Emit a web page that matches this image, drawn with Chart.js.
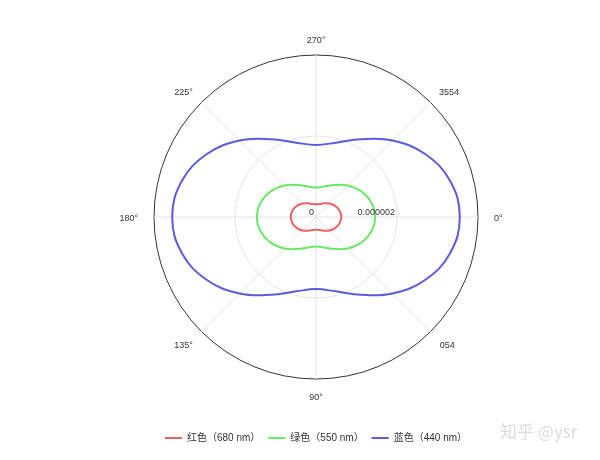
<!DOCTYPE html>
<html>
<head>
<meta charset="utf-8">
<script src="https://cdn.jsdelivr.net/npm/chart.js@4"></script>
<style>
  html, body { margin: 0; padding: 0; background: #fff; }
  canvas { display: block; }
</style>
</head>
<body>
<canvas id="polarChart" width="600" height="460"></canvas>
<script>
// angle categories, 15 degree steps, 0 at right going clockwise
const angles = [0, 15, 30, 45, 60, 75, 90, 105, 120, 135, 150, 165,
                180, 195, 210, 225, 240, 255, 270, 285, 300, 315, 330, 345];

// intensities
const red =   [0.624e-6, 0.603e-6, 0.546e-6, 0.468e-6, 0.390e-6, 0.333e-6, 0.312e-6, 0.333e-6, 0.390e-6, 0.468e-6, 0.546e-6, 0.603e-6,
               0.624e-6, 0.603e-6, 0.546e-6, 0.468e-6, 0.390e-6, 0.333e-6, 0.312e-6, 0.333e-6, 0.390e-6, 0.468e-6, 0.546e-6, 0.603e-6];
const green = [1.46e-6, 1.41e-6, 1.28e-6, 1.10e-6, 0.91e-6, 0.78e-6, 0.73e-6, 0.78e-6, 0.91e-6, 1.10e-6, 1.28e-6, 1.41e-6,
               1.46e-6, 1.41e-6, 1.28e-6, 1.10e-6, 0.91e-6, 0.78e-6, 0.73e-6, 0.78e-6, 0.91e-6, 1.10e-6, 1.28e-6, 1.41e-6];
const blue =  [3.55e-6, 3.43e-6, 3.11e-6, 2.67e-6, 2.22e-6, 1.90e-6, 1.78e-6, 1.90e-6, 2.22e-6, 2.67e-6, 3.11e-6, 3.43e-6,
               3.55e-6, 3.43e-6, 3.11e-6, 2.67e-6, 2.22e-6, 1.90e-6, 1.78e-6, 1.90e-6, 2.22e-6, 2.67e-6, 3.11e-6, 3.43e-6];

const seriesNames = ['红色（680 nm）', '绿色（550 nm）', '蓝色（440 nm）'];
const seriesColors = ['#e86464', '#6ae86a', '#5c5cdc'];

// axis labels
const labelAngles = [0, 45, 90, 135, 180, 225, 270, 315];
const labelTexts = ['0°', '054', '90°', '135°', '180°', '225°', '270°', '3554'];
const radialTicks = [0, 2e-6];
const radialTickLabels = ['0', '0.000002'];

const labelFont = '9px "Liberation Sans", Arial, sans-serif';

// draws angle labels and radius labels the ECharts way
const axisText = {
  id: 'axisText',
  afterDraw(chart) {
    const ctx = chart.ctx;
    const s = chart.scales.r;
    const r = s.drawingArea;
    ctx.save();
    ctx.font = labelFont;
    ctx.fillStyle = '#333';
    ctx.textAlign = 'center';
    ctx.textBaseline = 'middle';
    labelAngles.forEach((a, i) => {
      const idx = angles.indexOf(a);
      const ang = s.getIndexAngle(idx) - Math.PI / 2;
      const c = Math.cos(ang), sn = Math.sin(ang);
      const w = ctx.measureText(labelTexts[i]).width;
      const x = s.xCenter + c * (r + 16) + c * w / 2;
      const y = s.yCenter + sn * (r + 12) + sn * 4.5 + 2;
      ctx.fillText(labelTexts[i], x, y);
    });
    ctx.textAlign = 'right';
    ctx.textBaseline = 'bottom';
    radialTicks.forEach((v, i) => {
      const d = s.getDistanceFromCenterForValue(v);
      ctx.fillText(radialTickLabels[i], s.xCenter + d - 2, s.yCenter);
    });
    // watermark
    ctx.font = '17px "Noto Sans CJK SC", sans-serif';
    ctx.fillStyle = '#dcdcdc';
    ctx.textAlign = 'left';
    ctx.textBaseline = 'middle';
    ctx.fillText('知乎 @ysr', 500, 432);
    ctx.restore();
  }
};

const ctx = document.getElementById('polarChart').getContext('2d');
const polarChart = new Chart(ctx, {
  type: 'radar',
  data: {
    labels: angles,
    datasets: [red, green, blue].map((d, i) => ({
      label: seriesNames[i],
      data: d,
      borderColor: seriesColors[i],
      backgroundColor: seriesColors[i],
      borderWidth: 2,
      pointRadius: 0,
      pointHoverRadius: 0,
      fill: false,
      tension: 0.4
    }))
  },
  options: {
    responsive: false,
    animation: false,
    devicePixelRatio: 1,
    layout: { padding: { left: 154, right: 122, top: 9, bottom: 7 } },
    scales: {
      r: {
        min: 0,
        max: 4e-6,
        startAngle: 90,
        ticks: { stepSize: 2e-6, display: false },
        pointLabels: { display: false },
        grid: {
          circular: true,
          color: c => (c.tick && c.tick.value >= 4e-6 ? '#333' : '#e4e4e4'),
          lineWidth: 1
        },
        angleLines: {
          color: '#e4e4e4',
          lineWidth: c => (angles[c.index] % 45 === 0 ? 1 : 0)
        }
      }
    },
    plugins: {
      tooltip: { enabled: false },
      legend: {
        position: 'bottom',
        labels: {
          boxWidth: 17,
          boxHeight: 2,
          padding: 8,
          color: '#333',
          font: { size: 10, family: '"Liberation Sans", "Noto Sans CJK SC", sans-serif' },
          generateLabels(chart) {
            const items = Chart.defaults.plugins.legend.labels.generateLabels(chart);
            items.forEach(it => { it.lineWidth = 0; });
            return items;
          }
        }
      }
    }
  },
  plugins: [axisText]
});
</script>
</body>
</html>
